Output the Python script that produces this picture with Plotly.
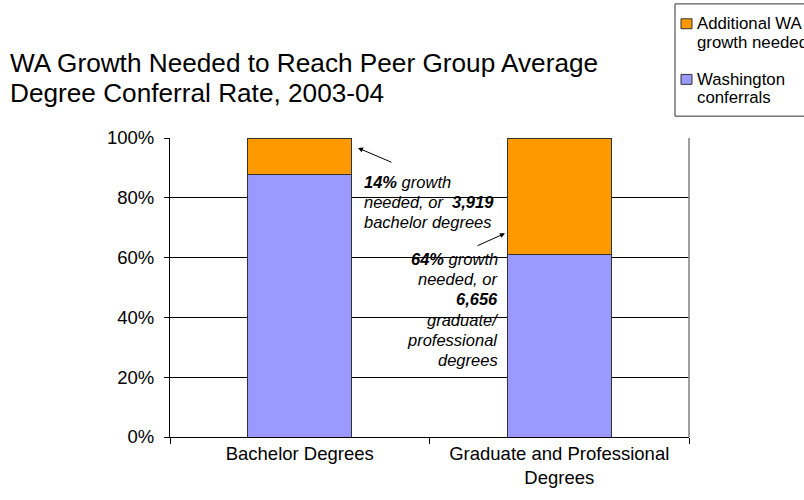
import plotly.graph_objects as go

# Chart data
categories = ["Bachelor Degrees", "Graduate and Professional<br>Degrees"]
washington_share = [87.7, 61.0]      # % of peer-average conferrals already reached
additional_share = [12.3, 39.0]      # % growth still needed to reach peer average
series_names = ["Washington conferrals", "Additional WA growth needed"]
y_ticks = [0, 20, 40, 60, 80, 100]
y_tick_labels = ["0%", "20%", "40%", "60%", "80%", "100%"]
title_lines = ["WA Growth Needed to Reach Peer Group Average",
               "Degree Conferral Rate, 2003-04"]
bachelor_note = ["<b>14%</b> growth", "needed, or  <b>3,919</b>", "bachelor degrees"]
graduate_note = ["<b>64%</b> growth", "needed, or", "<b>6,656</b>",
                 "graduate/", "professional", "degrees"]

W, H = 804, 500
L, R, T, B = 170, 115, 138, 61
PW, PH = W - L - R, H - T - B

FONT = "Liberation Sans, Arial, sans-serif"
ORANGE = "#FF9900"
BLUE = "#9999FF"


def px(x):
    """Pixel x -> paper x."""
    return (x - L) / PW


def py(y):
    """Pixel y -> paper y."""
    return (H - B - y) / PH


def text_line(fig, text, x, yc, anchor, size, style="normal"):
    fig.add_annotation(
        xref="paper", yref="paper", x=px(x), y=py(yc),
        xanchor=anchor, yanchor="middle", align=anchor, showarrow=False,
        text=text, font=dict(family=FONT, size=size, color="black", style=style),
    )


fig = go.Figure()
fig.add_trace(go.Bar(
    x=categories, y=washington_share, name=series_names[0],
    marker=dict(color=BLUE, line=dict(color="#333333", width=1)),
    width=0.4, hoverinfo="y",
))
fig.add_trace(go.Bar(
    x=categories, y=additional_share, name=series_names[1],
    marker=dict(color=ORANGE, line=dict(color="#333333", width=1)),
    width=0.4, hoverinfo="y",
))

fig.update_layout(
    width=W, height=H,
    margin=dict(l=L, r=R, t=T, b=B, pad=0),
    barmode="stack",
    showlegend=False,
    paper_bgcolor="white",
    plot_bgcolor="white",
    font=dict(family=FONT, size=18, color="black"),
)

fig.update_xaxes(
    type="category",
    showline=True, linecolor="black", linewidth=1,
    ticks="outside", tickson="boundaries", ticklen=6, tickcolor="black",
    showgrid=False,
    tickfont=dict(size=18.5),
    range=[-0.5, 1.5],
)
fig.update_yaxes(
    range=[0, 100],
    tickvals=y_ticks, ticktext=y_tick_labels,
    showline=True, linecolor="black", linewidth=1,
    ticks="outside", ticklen=5, tickcolor="black",
    showgrid=True, gridcolor="black", gridwidth=1,
    zeroline=False,
    tickfont=dict(size=18.5),
    ticklabelstandoff=6,
)

# Plot-area right border (gray)
fig.add_shape(type="line", xref="paper", yref="paper",
              x0=1, x1=1, y0=0, y1=1,
              line=dict(color="#808080", width=1.5))

# Title
for line, yc in zip(title_lines, [62, 93]):
    text_line(fig, line, 8, yc, "left", 26.2)

# Callout for the bachelor bar
for line, yc in zip(bachelor_note, [182, 202, 222.5]):
    text_line(fig, line, 362, yc, "left", 16.5, "italic")
fig.add_annotation(
    xref="paper", yref="paper", x=px(358), y=py(148),
    ax=35, ay=15, text="", showarrow=True,
    arrowhead=2, arrowsize=1, arrowwidth=1, arrowcolor="black",
)

# Callout for the graduate/professional bar
for line, yc in zip(graduate_note, [259.5, 280, 300.5, 321, 341.5, 361.5]):
    text_line(fig, line, 500, yc, "right", 16.5, "italic")
fig.add_annotation(
    xref="paper", yref="paper", x=px(505), y=py(234),
    ax=-29, ay=13, text="", showarrow=True,
    arrowhead=2, arrowsize=1, arrowwidth=1, arrowcolor="black",
)

# Legend box (runs past the right edge of the page)
fig.add_shape(type="rect", xref="paper", yref="paper",
              x0=px(675), x1=px(900), y0=py(116), y1=py(3),
              line=dict(color="#333333", width=1), fillcolor="white")
legend_items = [(ORANGE, 18, ["Additional WA", "growth needed"], [23, 41.5]),
                (BLUE, 74, ["Washington", "conferrals"], [79, 97])]
for color, top, labels, centers in legend_items:
    fig.add_shape(type="rect", xref="paper", yref="paper",
                  x0=px(681), x1=px(692), y0=py(top + 10), y1=py(top),
                  line=dict(color="#333333", width=1), fillcolor=color)
    for label, yc in zip(labels, centers):
        text_line(fig, label, 695, yc, "left", 16.8)

fig.write_html("out.html")
